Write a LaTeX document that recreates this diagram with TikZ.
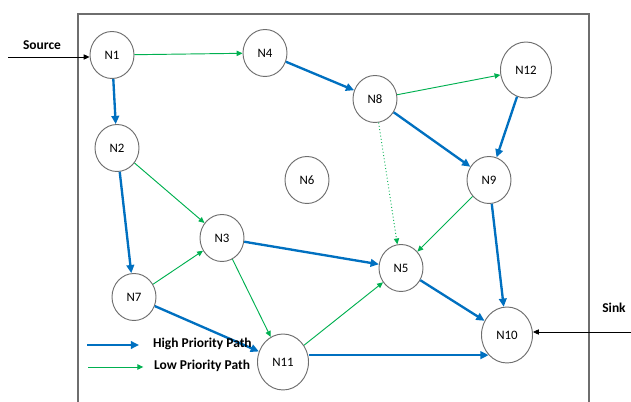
\documentclass[tikz,border=0pt]{standalone}
\usepackage{fontspec}
\setmainfont{Carlito}
\usepackage{tikz}
\usetikzlibrary{arrows.meta, shapes.geometric}
\definecolor{highblue}{RGB}{0, 112, 192}
\definecolor{lowgreen}{RGB}{0, 176, 80}
\definecolor{nodeline}{RGB}{110, 110, 110}

\begin{document}
\begin{tikzpicture}[
  x=0.03cm, y=-0.03cm,
  every node/.style={font=\fontsize{11}{13}\selectfont},
  sensor/.style={ellipse, draw=nodeline, thick, fill=white, minimum width=1.32cm, minimum height=1.41cm, inner sep=0pt},
  bigsensor/.style={sensor, minimum width=1.53cm, minimum height=1.68cm},
  label/.style={font=\fontsize{11.5}{13}\selectfont\bfseries},
  high/.style={-{Triangle[length=7pt, width=6.5pt]}, line width=2pt, draw=highblue},
  low/.style={-{Triangle[length=5pt, width=4.5pt]}, line width=0.8pt, draw=lowgreen},
  ext/.style={-{Triangle[length=5pt, width=4.5pt]}, line width=0.6pt, draw=black}
]
  \useasboundingbox (0,0) rectangle (631,402);

  % Frame (open at the bottom)
  \draw[nodeline, line width=1pt] (78,402) -- (78,14) -- (589,14) -- (589,402);

  % Nodes
  \node[sensor] (n1) at (112,55) {N1};
  \node[sensor] (n4) at (265,53) {N4};
  \node[sensor] (n2) at (117,148) {N2};
  \node[sensor] (n6) at (307,180) {N6};
  \node[sensor] (n8) at (375,99) {N8};
  \node[bigsensor] (n12) at (526,70) {N12};
  \node[sensor] (n9) at (489,180) {N9};
  \node[sensor] (n3) at (222,238) {N3};
  \node[sensor] (n7) at (134,297) {N7};
  \node[sensor] (n5) at (401,268) {N5};
  \node[bigsensor] (n11) at (283,362) {N11};
  \node[bigsensor] (n10) at (507,335) {N10};

  % Source and sink
  \node[label] (source) at (42,45) {Source};
  \coordinate (srcin) at (8,57);
  \node[label] (sink) at (614,308) {Sink};
  \coordinate (sinkin) at (631,332);
  \draw[ext] (srcin) -- (n1.west |- srcin);
  \draw[ext] (sinkin) -- (n10.east |- sinkin);

  % High priority paths
  \draw[high] (n1) -- (n2);
  \draw[high] (n2) -- (n7);
  \draw[high] (n4) -- (n8);
  \draw[high] (n8) -- (n9);
  \draw[high] (n12) -- (n9);
  \draw[high] (n3) -- (n5);
  \draw[high] (n7) -- (n11);
  \draw[high] (n5) -- (n10);
  \draw[high] (n9) -- (n10);
  \draw[high] (n11.east |- n10.south west) -- (n10.south west);

  % Low priority paths
  \draw[low] (n1) -- (n4);
  \draw[low] (n8) -- (n12);
  \draw[low] (n2) -- (n3);
  \draw[low] (n7) -- (n3);
  \draw[low] (n3) -- (n11);
  \draw[low] (n11) -- (n5);
  \draw[low] (n9) -- (n5);
  \draw[low, dotted] (n8) -- (n5);

  % Legend
  \node[label, anchor=west] (hilegend) at (149,344) {High Priority Path};
  \node[label, anchor=west] (lolegend) at (150,366) {Low Priority Path};
  \coordinate (histart) at (87,345);
  \coordinate (lostart) at (88,367);
  \draw[high] (histart) -- ([xshift=-0.3cm] hilegend.west |- histart);
  \draw[low] (lostart) -- ([xshift=-0.2cm] lolegend.west |- lostart);

\end{tikzpicture}
\end{document}
